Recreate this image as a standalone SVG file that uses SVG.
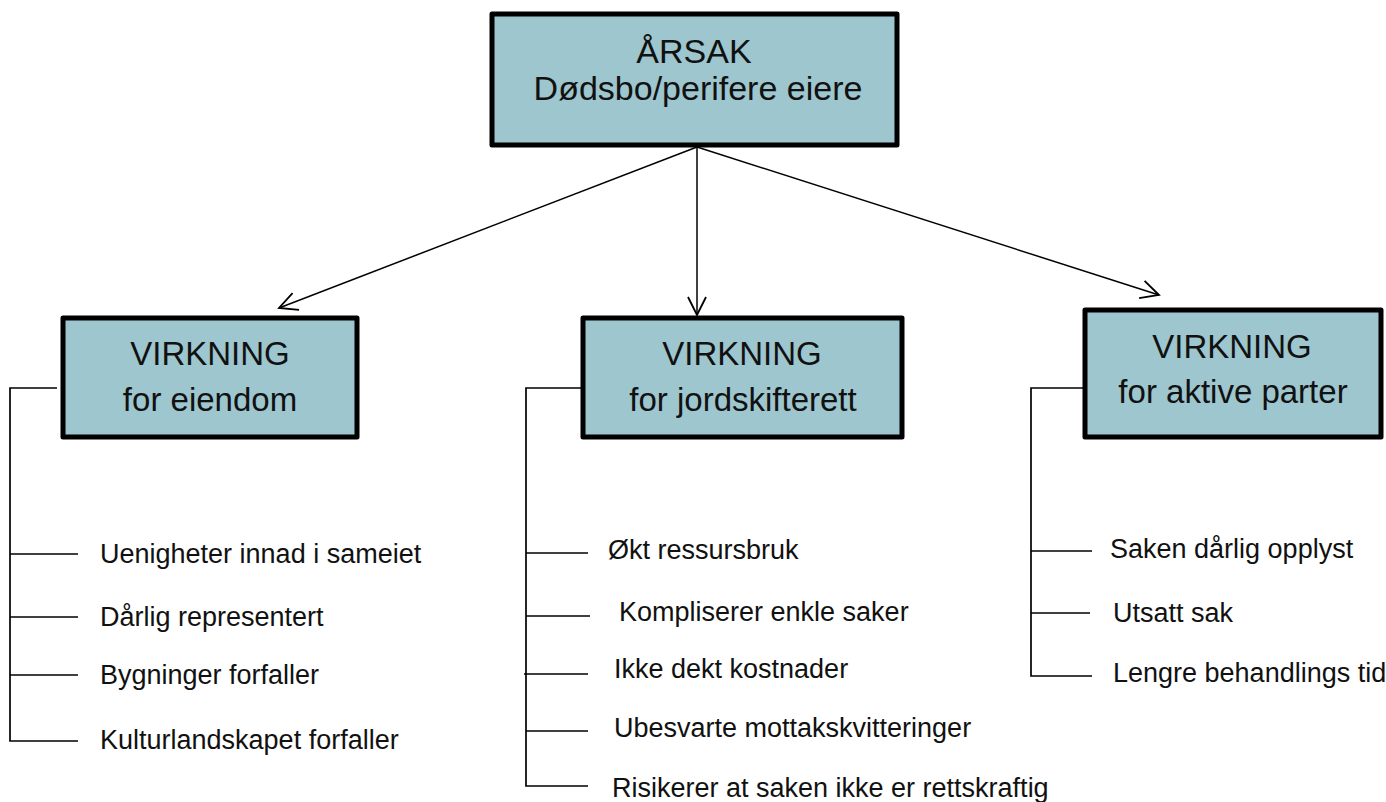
<svg xmlns="http://www.w3.org/2000/svg" width="1386" height="802" viewBox="0 0 1386 802">
<style>
.box{fill:#9dc6ce;stroke:#000;stroke-width:5;stroke-linejoin:round}
.t{font-family:"Liberation Sans",Arial,sans-serif;fill:#111}
.h{font-size:33px;text-anchor:middle}
.top{font-size:34px;text-anchor:middle}
.it{font-size:27px}
.ln{stroke:#000;stroke-width:1.7;fill:none}
.ar{stroke:#000;stroke-width:1.5;fill:none;marker-end:url(#arr)}
</style>
<defs>
<marker id="arr" markerUnits="userSpaceOnUse" markerWidth="24" markerHeight="24" viewBox="0 0 24 24" refX="20" refY="12" orient="auto">
<path d="M2,3 L20,12 L2,21" fill="none" stroke="#000" stroke-width="1.8"/>
</marker>
</defs>
<g id="connectors">
<line class="ar" x1="697" y1="147" x2="279" y2="308"/>
<line class="ar" x1="697" y1="147" x2="697" y2="315"/>
<line class="ar" x1="697" y1="147" x2="1159" y2="295"/>
<polyline class="ln" points="57,388 10,388 10,741 78,741"/>
<line class="ln" x1="10" y1="554" x2="78" y2="554"/>
<line class="ln" x1="10" y1="617" x2="78" y2="617"/>
<line class="ln" x1="10" y1="675" x2="78" y2="675"/>
<polyline class="ln" points="583,388 526,388 526,786 588,786"/>
<line class="ln" x1="526" y1="553" x2="588" y2="553"/>
<line class="ln" x1="526" y1="616" x2="590" y2="616"/>
<line class="ln" x1="524" y1="674" x2="588" y2="674"/>
<line class="ln" x1="526" y1="731" x2="588" y2="731"/>
<polyline class="ln" points="1085,388 1031,388 1031,676 1092,676"/>
<line class="ln" x1="1031" y1="551" x2="1092" y2="551"/>
<line class="ln" x1="1031" y1="613" x2="1090" y2="613"/>
</g>
<g id="arsak">
<rect class="box" x="492" y="14" width="405" height="131"/>
<text class="t top" x="694" y="63">ÅRSAK</text>
<text class="t top" x="698" y="100">Dødsbo/perifere eiere</text>
</g>
<g id="virkning-eiendom">
<rect class="box" x="63" y="318" width="294" height="119"/>
<text class="t h" x="210" y="365">VIRKNING</text>
<text class="t h" x="210" y="411">for eiendom</text>
</g>
<g id="virkning-jordskifterett">
<rect class="box" x="583" y="318" width="319" height="119"/>
<text class="t h" x="742" y="365">VIRKNING</text>
<text class="t h" x="743" y="411">for jordskifterett</text>
</g>
<g id="virkning-aktive">
<rect class="box" x="1085" y="310" width="296" height="127"/>
<text class="t h" x="1232" y="358">VIRKNING</text>
<text class="t h" x="1233" y="403">for aktive parter</text>
</g>
<g id="items-eiendom">
<text class="t it" x="100" y="563">Uenigheter innad i sameiet</text>
<text class="t it" x="100" y="626">Dårlig representert</text>
<text class="t it" x="100" y="684">Bygninger forfaller</text>
<text class="t it" x="100" y="749">Kulturlandskapet forfaller</text>
</g>
<g id="items-jordskifterett">
<text class="t it" x="608" y="559">Økt ressursbruk</text>
<text class="t it" x="619" y="621">Kompliserer enkle saker</text>
<text class="t it" x="614" y="678">Ikke dekt kostnader</text>
<text class="t it" x="614" y="737">Ubesvarte mottakskvitteringer</text>
<text class="t it" x="612" y="797">Risikerer at saken ikke er rettskraftig</text>
</g>
<g id="items-aktive">
<text class="t it" x="1110" y="558">Saken dårlig opplyst</text>
<text class="t it" x="1113" y="622">Utsatt sak</text>
<text class="t it" x="1113" y="682">Lengre behandlings tid</text>
</g>
</svg>
